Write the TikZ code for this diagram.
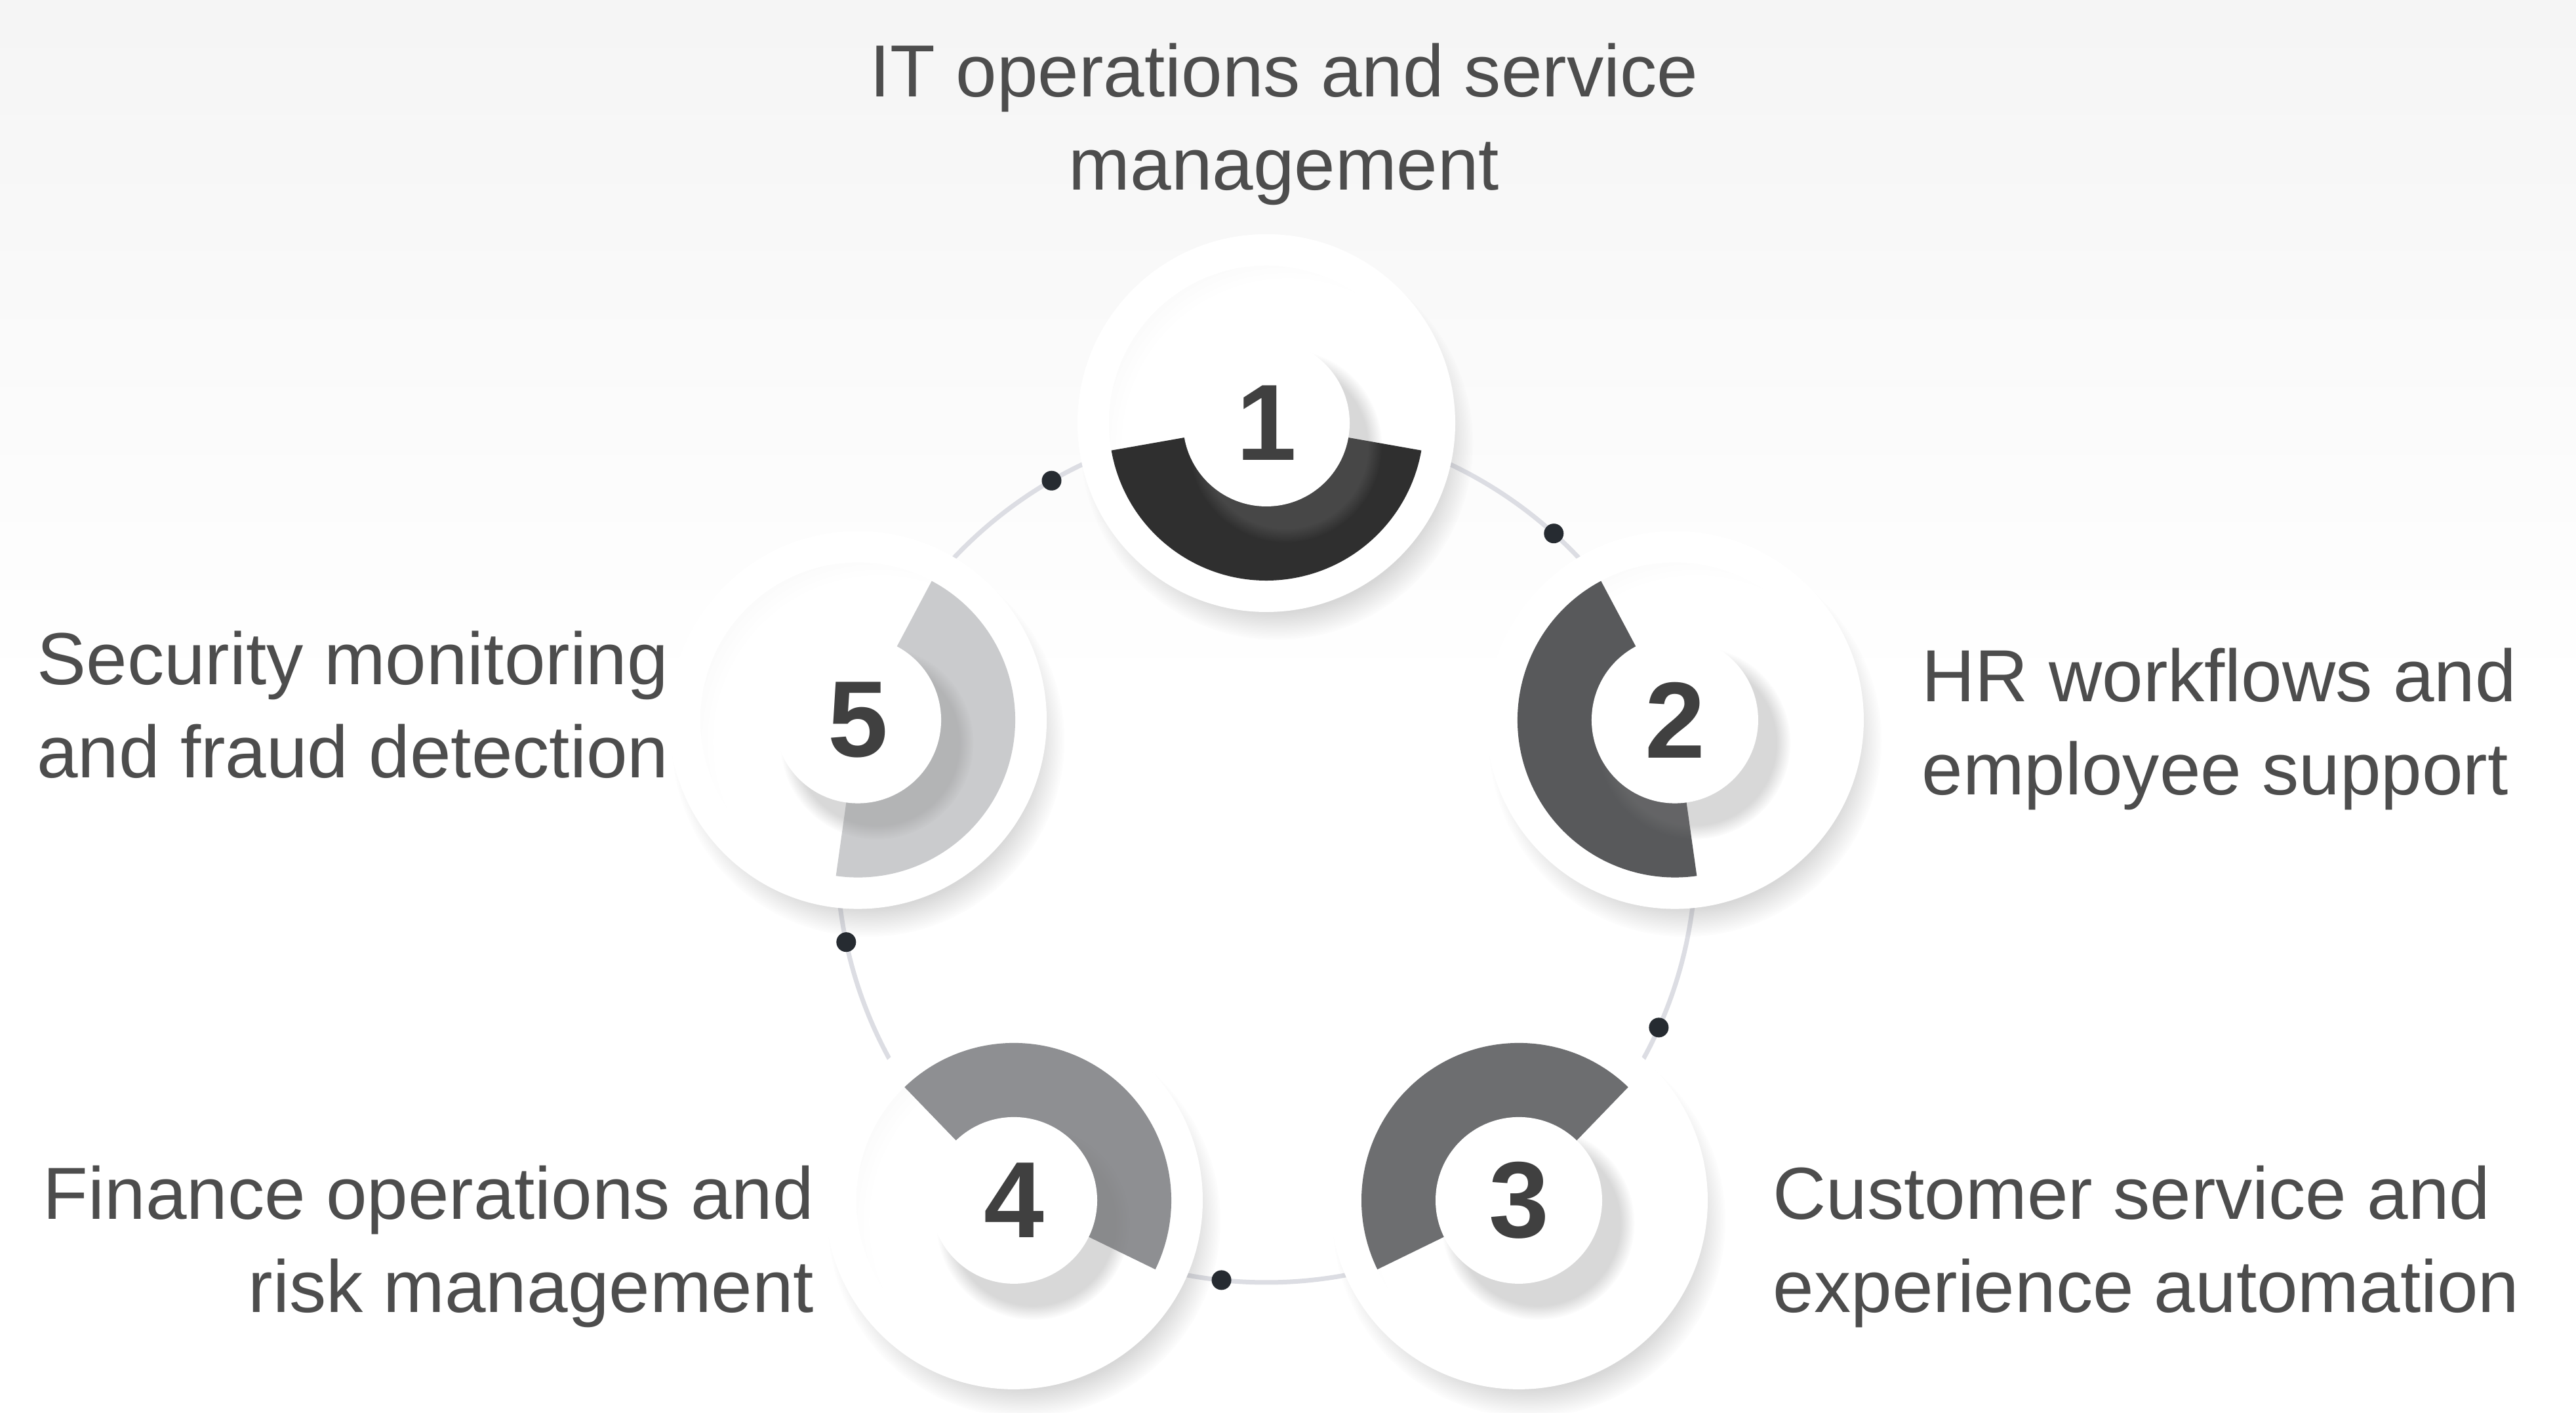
\documentclass[tikz,border=0pt]{standalone}
\usepackage{fontspec}
\setmainfont{Liberation Sans}
\usetikzlibrary{shadows}
\definecolor{labelgray}{HTML}{4D4D4D}
\definecolor{numgray}{HTML}{404040}
\definecolor{loopline}{HTML}{DCDDE3}
\definecolor{dotdark}{HTML}{262B31}
\definecolor{stepA}{HTML}{2F2F2F}
\definecolor{stepB}{HTML}{58595B}
\definecolor{stepC}{HTML}{6D6E70}
\definecolor{stepD}{HTML}{8E8F92}
\definecolor{stepE}{HTML}{CACBCD}
\pgfdeclareradialshading{bowl}{\pgfpoint{6bp}{-6bp}}{%
  color(0bp)=(white); color(26bp)=(white); color(40bp)=(black!7);
  color(48bp)=(black!20); color(56bp)=(black!32); color(60bp)=(black!36)}
\tikzset{
  outerdisc/.style={circle, fill=white, minimum size=5.76cm, inner sep=0pt,
    circular drop shadow={shadow xshift=.15cm, shadow yshift=-.3cm,
      shadow scale=1.04, opacity=.3}},
  hubdisc/.style={circle, fill=white, minimum size=2.54cm, inner sep=0pt,
    text=numgray, font=\fontsize{47}{47}\selectfont\bfseries,
    circular drop shadow={shadow xshift=.25cm, shadow yshift=-.3cm,
      shadow scale=1.16, opacity=.3}},
  steptext/.style={text=labelgray, inner sep=0pt,
    font=\fontsize{32}{40.5}\selectfont},
  dotmark/.style={circle, fill=dotdark, minimum size=.3cm, inner sep=0pt},
  connector/.style={draw=loopline, line width=.07cm}
}
\begin{document}
\begin{tikzpicture}
  \useasboundingbox (0,0) rectangle (39.28,21.54);
  % background
  \fill[white] (0,0) rectangle (39.28,21.54);
  \shade[top color=black!4, bottom color=white] (0,11) rectangle (39.28,21.54);

  \coordinate (hub) at (19.31,8.54);
  \draw[connector] (hub) circle (6.55);

  % the five steps
  \foreach \n/\ang/\col in {1/90/stepA, 2/18/stepB, 3/-54/stepC, 4/-126/stepD, 5/162/stepE} {
    \pgfmathsetmacro{\a}{\ang+100}
    \pgfmathsetmacro{\b}{\ang+260}
    \node[outerdisc] (s\n) at ([shift={(\ang:6.55)}]hub) {};
    \shade[shading=bowl] (s\n.center) circle (2.40);
    \fill[\col] (s\n.center) -- ([shift={(\a:2.40)}]s\n.center)
      arc[start angle=\a, end angle=\b, radius=2.40] -- cycle;
    \node[hubdisc] (n\n) at (s\n.center) {\n};
  }

  % dots on the loop
  \foreach \k/\ang in {1/120, 2/48, 3/-24, 4/-96, 5/192} {
    \node[dotmark] (d\k) at ([shift={(\ang:6.55)}]hub) {};
  }

  \node[steptext, anchor=north, align=center] (t1) at (19.58,20.89)
    {IT operations and service\\management};
  \node[steptext, anchor=north west, align=left] (t2) at (29.30,11.67)
    {HR workflows and\\employee support};
  \node[steptext, anchor=north west, align=left] (t3) at (27.03,3.78)
    {Customer service and\\experience automation};
  \node[steptext, anchor=north east, align=right] (t4) at (12.42,3.78)
    {Finance operations and\\risk management};
  \node[steptext, anchor=north east, align=right] (t5) at (10.20,11.93)
    {Security monitoring\\and fraud detection};
\end{tikzpicture}
\end{document}
